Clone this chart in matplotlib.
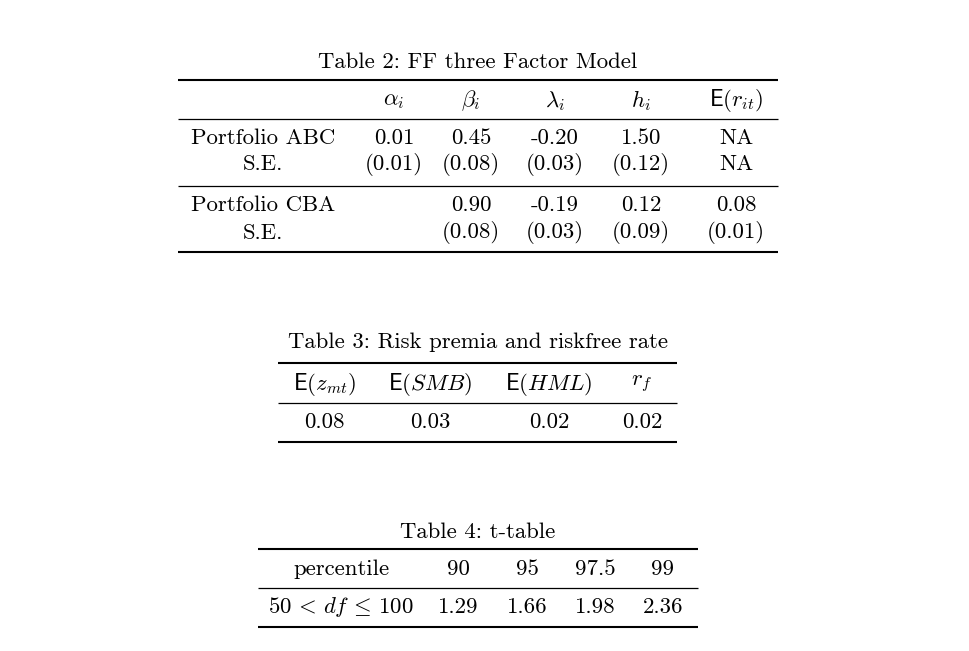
import matplotlib
matplotlib.use("Agg")
import matplotlib.pyplot as plt

plt.rcParams['font.family'] = ['cmr10', 'DejaVu Serif']
plt.rcParams['mathtext.fontset'] = 'cm'
plt.rcParams['axes.unicode_minus'] = False

# Table 2 data
t2_title = "Table 2: FF three Factor Model"
t2_headers = [r"$\alpha_i$", r"$\beta_i$", r"$\lambda_i$", r"$h_i$", r"$\mathsf{E}(r_{it})$"]
t2_row_labels = ["Portfolio ABC", "S.E.", "Portfolio CBA", "S.E."]
t2_rows = [
    ["0.01", "0.45", "-0.20", "1.50", "NA"],
    ["(0.01)", "(0.08)", "(0.03)", "(0.12)", "NA"],
    ["", "0.90", "-0.19", "0.12", "0.08"],
    ["", "(0.08)", "(0.03)", "(0.09)", "(0.01)"],
]

# Table 3 data
t3_title = "Table 3: Risk premia and riskfree rate"
t3_headers = [r"$\mathsf{E}(z_{mt})$", r"$\mathsf{E}(SMB)$", r"$\mathsf{E}(HML)$", r"$r_f$"]
t3_values = ["0.08", "0.03", "0.02", "0.02"]

# Table 4 data
t4_title = "Table 4: t-table"
t4_headers = ["percentile", "90", "95", "97.5", "99"]
t4_values = [r"$50\,<\,df\,\leq\,100$", "1.29", "1.66", "1.98", "2.36"]

FS = 16.4

fig = plt.figure(figsize=(9.70, 6.51), dpi=100)
ax = fig.add_axes([0, 0, 1, 1])
ax.set_xlim(0, 970)
ax.set_ylim(651, 0)
ax.axis('off')


def txt(x, y, s):
    ax.text(x, y, s, ha='center', va='center', fontsize=FS, color='black')


def rule(y, x0, x1, lw):
    ax.plot([x0, x1], [y, y], color='black', linewidth=lw, solid_capstyle='butt')


# ---- Table 2 ----
x0, x1 = 178, 778
cols2 = [394, 471, 555, 641, 736]
label_x = 263
txt(478, 62, t2_title)
rule(80, x0, x1, 1.5)
for x, h in zip(cols2, t2_headers):
    txt(x, 101, h)
rule(119, x0, x1, 0.9)
row_y = [138, 164, 205, 233]
for y, lab, vals in zip(row_y, t2_row_labels, t2_rows):
    txt(label_x, y, lab)
    for x, v in zip(cols2, vals):
        if v:
            txt(x, y, v)
rule(186, x0, x1, 0.9)
rule(252, x0, x1, 1.5)

# ---- Table 3 ----
x0, x1 = 278, 677
cols3 = [324, 430, 549, 642]
txt(478, 342, t3_title)
rule(363, x0, x1, 1.5)
for x, h in zip(cols3, t3_headers):
    txt(x, 384, h)
rule(403, x0, x1, 0.9)
for x, v in zip(cols3, t3_values):
    txt(x, 422, v)
rule(442, x0, x1, 1.5)

# ---- Table 4 ----
x0, x1 = 258, 698
cols4 = [341, 458, 527, 595, 663]
txt(478, 532, t4_title)
rule(549, x0, x1, 1.5)
for x, h in zip(cols4, t4_headers):
    txt(x, 569, h)
rule(588, x0, x1, 0.9)
for x, v in zip(cols4, t4_values):
    txt(x, 607, v)
rule(627, x0, x1, 1.5)

fig.savefig("out.png", dpi=100, facecolor='white')
